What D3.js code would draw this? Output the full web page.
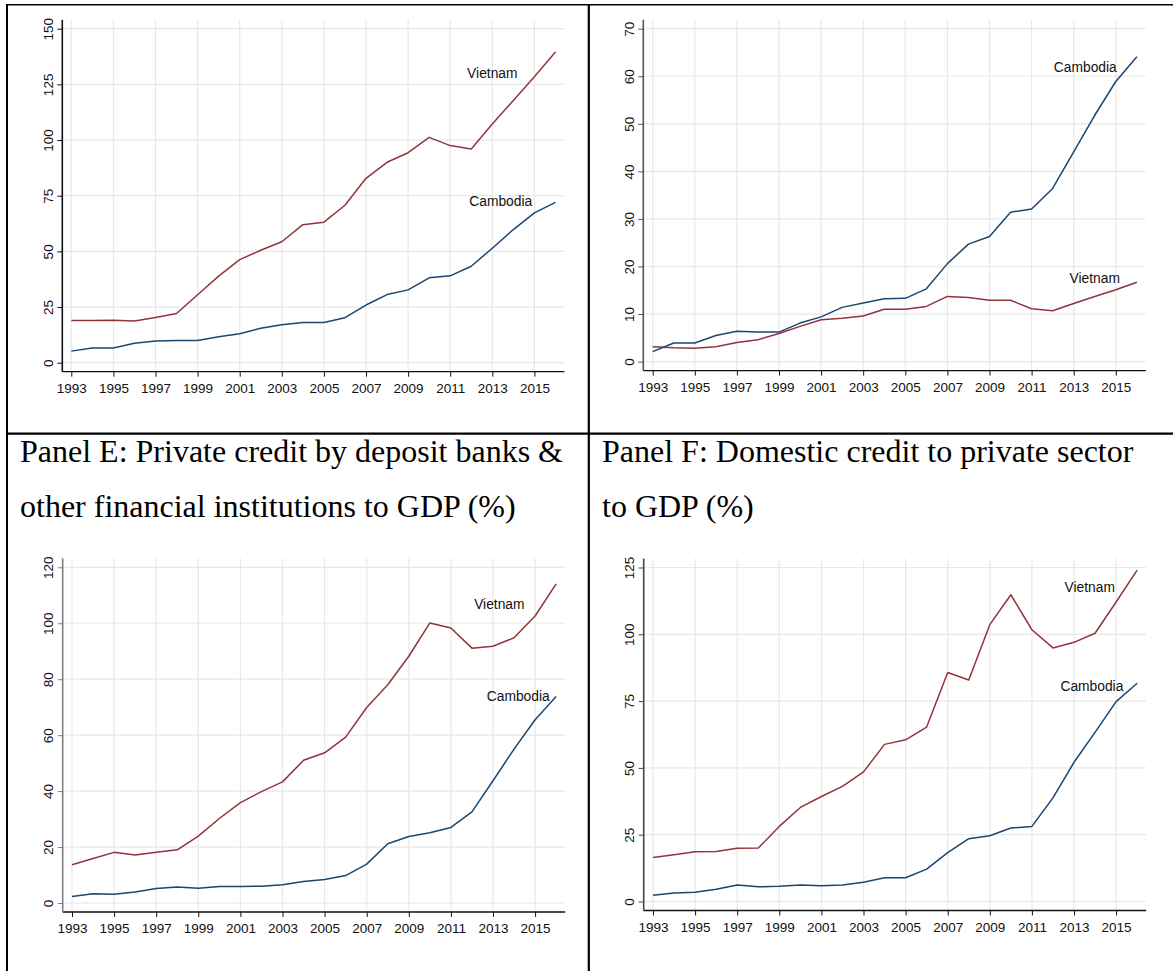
<!DOCTYPE html>
<html>
<head>
<meta charset="utf-8">
<script src="https://cdnjs.cloudflare.com/ajax/libs/d3/7.8.5/d3.min.js"></script>
<style>
  html, body { margin: 0; padding: 0; background: #fff; }
  svg { display: block; }
  .tick text { font-family: "Liberation Sans", Arial, sans-serif; font-size: 13.5px; fill: #111; }
  .serieslabel { font-family: "Liberation Sans", Arial, sans-serif; font-size: 13.8px; fill: #111; }
  .paneltitle { font-family: "Liberation Serif", "Times New Roman", serif; font-size: 32px; fill: #000; }
</style>
</head>
<body>
<svg id="fig" width="1173" height="971"></svg>
<script>
// Years shared by all four panels
const years = d3.range(1993, 2017);
const yearTicks = [1993, 1995, 1997, 1999, 2001, 2003, 2005, 2007, 2009, 2011, 2013, 2015];

// Panel C (top left): credit ratio, % of GDP
const panelC_vietnam = [19.0, 19.0, 19.1, 18.7, 20.3, 22.1, 30.5, 38.9, 46.3, 50.5, 54.3, 62.0,
  63.1, 70.7, 82.8, 90.0, 94.3, 101.2, 97.5, 96.0, 107.2, 117.8, 128.4, 139.5];
const panelC_cambodia = [5.2, 6.6, 6.6, 8.7, 9.7, 10.0, 10.0, 11.7, 13.0, 15.5, 17.0, 18.1,
  18.1, 20.2, 25.9, 30.6, 32.7, 38.1, 39.0, 43.3, 51.4, 59.8, 67.3, 72.0];
const panelC_ticks = [0, 25, 50, 75, 100, 125, 150];

// Panel D (top right)
const panelD_cambodia = [2.1, 3.9, 3.9, 5.5, 6.4, 6.2, 6.2, 8.1, 9.4, 11.4, 12.3, 13.2,
  13.3, 15.3, 20.6, 24.7, 26.3, 31.4, 32.1, 36.4, 44.1, 51.8, 58.9, 64.1];
const panelD_vietnam = [3.1, 2.9, 2.8, 3.1, 4.0, 4.6, 5.9, 7.4, 8.8, 9.1, 9.6, 11.0,
  11.0, 11.6, 13.7, 13.5, 12.9, 12.9, 11.1, 10.7, 12.2, 13.7, 15.1, 16.7];
const panelD_ticks = [0, 10, 20, 30, 40, 50, 60, 70];

// Panel E: private credit by deposit banks & other financial institutions
const panelE_vietnam = [13.7, 15.9, 18.1, 17.2, 18.1, 19.0, 23.9, 30.2, 35.9, 39.8, 43.3, 51.0,
  53.7, 59.3, 69.9, 78.0, 88.2, 100.1, 98.3, 91.1, 91.8, 94.8, 102.6, 114.1];
const panelE_cambodia = [2.3, 3.3, 3.1, 3.9, 5.2, 5.7, 5.3, 5.9, 5.9, 6.0, 6.5, 7.7,
  8.4, 9.8, 13.9, 21.2, 23.8, 25.1, 27.0, 32.6, 43.7, 55.0, 65.5, 73.8];
const panelE_ticks = [0, 20, 40, 60, 80, 100, 120];

// Panel F: domestic credit to private sector
const panelF_vietnam = [16.5, 17.5, 18.6, 18.7, 19.9, 20.0, 28.1, 35.2, 39.3, 43.1, 48.5, 58.8,
  60.5, 65.3, 85.7, 82.9, 103.6, 114.8, 101.7, 94.9, 97.0, 100.4, 112.1, 124.0];
const panelF_cambodia = [2.3, 3.2, 3.5, 4.6, 6.2, 5.5, 5.7, 6.2, 5.9, 6.2, 7.2, 8.9,
  8.9, 12.1, 18.3, 23.5, 24.6, 27.5, 28.1, 38.8, 52.1, 63.3, 74.8, 81.7];
const panelF_ticks = [0, 25, 50, 75, 100, 125];

const seriesNames = ["Vietnam", "Cambodia"];
const titleE = ["Panel E: Private credit by deposit banks &", "other financial institutions to GDP (%)"];
const titleF = ["Panel F: Domestic credit to private sector", "to GDP (%)"];

const colors = { Vietnam: "#90353b", Cambodia: "#1a476f" };

const svg = d3.select("#fig");

// Page-table rules around the four panels
const rules = svg.append("g").attr("stroke", "#000").attr("fill", "none");
rules.append("line").attr("x1", 6).attr("x2", 1173).attr("y1", 4.8).attr("y2", 4.8).attr("stroke-width", 1.4);
rules.append("line").attr("x1", 7).attr("x2", 7).attr("y1", 4).attr("y2", 971).attr("stroke-width", 2);
rules.append("line").attr("x1", 6).attr("x2", 1173).attr("y1", 433.6).attr("y2", 433.6).attr("stroke-width", 2.2);
rules.append("line").attr("x1", 588.8).attr("x2", 588.8).attr("y1", 4).attr("y2", 971).attr("stroke-width", 2.2);

// Panel frame geometry: axis line x, first-year x, zero y, top-tick y
const panels = [
  { axisX: 62.3, x0: 71.3, y0: 362.7, yTop: 28.7, ticks: panelC_ticks, axisColor: "#111",
    series: { Vietnam: panelC_vietnam, Cambodia: panelC_cambodia },
    labels: { Vietnam: [2013.0, 130.1], Cambodia: [2013.4, 72.2] } },
  { axisX: 643.3, x0: 652.7, y0: 361.6, yTop: 28.7, ticks: panelD_ticks, axisColor: "#555",
    series: { Vietnam: panelD_vietnam, Cambodia: panelD_cambodia },
    labels: { Vietnam: [2014.0, 17.5], Cambodia: [2013.55, 61.9] } },
  { axisX: 62.7, x0: 72.0, y0: 903.0, yTop: 567.3, ticks: panelE_ticks, axisColor: "#808080",
    series: { Vietnam: panelE_vietnam, Cambodia: panelE_cambodia },
    labels: { Vietnam: [2013.3, 106.8], Cambodia: [2014.2, 73.9] }, title: titleE, titleX: 20 },
  { axisX: 643.7, x0: 653.0, y0: 901.5, yTop: 567.5, ticks: panelF_ticks, axisColor: "#444",
    series: { Vietnam: panelF_vietnam, Cambodia: panelF_cambodia },
    labels: { Vietnam: [2013.75, 117.7], Cambodia: [2013.85, 80.3] }, title: titleF, titleX: 602 }
];

const yearStep = 21.05;
const pad = 9;

panels.forEach(p => {
  const g = svg.append("g");
  const x = d3.scaleLinear().domain([1993, 2016]).range([p.x0, p.x0 + 23 * yearStep]);
  const yMax = p.ticks[p.ticks.length - 1];
  const y = d3.scaleLinear().domain([0, yMax]).range([p.y0, p.yTop]);
  const right = x(2016) + pad;
  const bottom = y(0) + pad;
  const top = y(yMax) - pad;

  // grid
  const grid = g.append("g").attr("stroke", "#e8e8e8").attr("stroke-width", 1.2);
  grid.selectAll("line.h").data(p.ticks).join("line")
    .attr("x1", p.axisX).attr("x2", right)
    .attr("y1", d => y(d)).attr("y2", d => y(d));
  grid.selectAll("line.v").data(yearTicks).join("line")
    .attr("x1", d => x(d)).attr("x2", d => x(d))
    .attr("y1", top).attr("y2", bottom);

  // x axis
  const xAxis = d3.axisBottom(x).tickValues(yearTicks).tickFormat(d3.format("d"))
    .tickSize(5).tickPadding(6.5);
  const gx = g.append("g").attr("transform", `translate(0,${bottom})`).call(xAxis);
  gx.select(".domain").remove();
  gx.selectAll(".tick line").attr("stroke", "#111");
  gx.append("line").attr("x1", p.axisX).attr("x2", right).attr("y1", 0).attr("y2", 0)
    .attr("stroke", "#111").attr("stroke-width", 1.3);

  // y axis with upright-rotated labels
  const yAxis = d3.axisLeft(y).tickValues(p.ticks).tickSize(5);
  const gy = g.append("g").attr("transform", `translate(${p.axisX},0)`).call(yAxis);
  gy.select(".domain").remove();
  gy.selectAll(".tick line").attr("stroke", p.axisColor);
  gy.selectAll(".tick text")
    .attr("x", null).attr("dy", null)
    .attr("text-anchor", "middle")
    .attr("transform", "translate(-9.6,0) rotate(-90)");
  gy.append("line").attr("x1", 0).attr("x2", 0).attr("y1", top).attr("y2", bottom)
    .attr("stroke", p.axisColor).attr("stroke-width", 1.6);

  // series lines
  const line = d3.line().x((d, i) => x(years[i])).y(d => y(d));
  seriesNames.forEach(name => {
    g.append("path").datum(p.series[name])
      .attr("fill", "none").attr("stroke", colors[name]).attr("stroke-width", 1.5)
      .attr("stroke-linejoin", "round")
      .attr("d", line);
    const [lx, ly] = p.labels[name];
    g.append("text").attr("class", "serieslabel")
      .attr("x", x(lx)).attr("y", y(ly))
      .attr("text-anchor", "middle").attr("dominant-baseline", "central")
      .text(name);
  });

  if (p.title) {
    svg.append("text").attr("class", "paneltitle").attr("x", p.titleX).attr("y", 462).text(p.title[0]);
    svg.append("text").attr("class", "paneltitle").attr("x", p.titleX).attr("y", 517).text(p.title[1]);
  }
});
</script>
</body>
</html>
